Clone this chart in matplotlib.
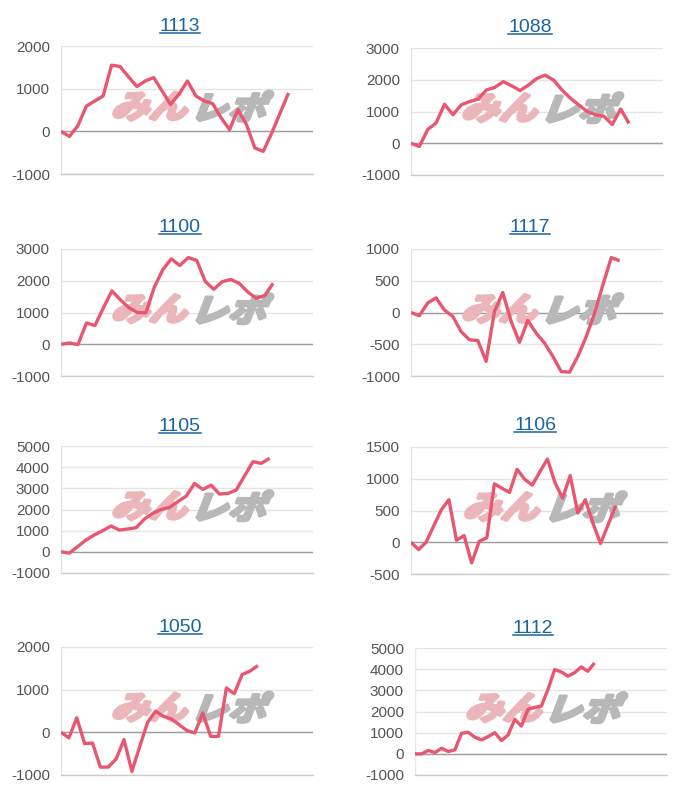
import matplotlib
matplotlib.use("Agg")
import matplotlib.pyplot as plt
from matplotlib.lines import Line2D
from matplotlib.textpath import TextPath
from matplotlib.patches import PathPatch
from matplotlib.font_manager import FontProperties
from matplotlib.transforms import Affine2D

plt.rcParams["font.family"] = ["Liberation Sans", "DejaVu Sans"]
plt.rcParams["axes.unicode_minus"] = False

# chart titles (machine numbers)
titles = ["1113", "1088", "1100", "1117", "1105", "1106", "1050", "1112"]

# cumulative difference per day
v1113 = [0, -120, 130, 590, 710, 830, 1550, 1520, 1280, 1050, 1180, 1260, 945, 630,
         870, 1180, 830, 710, 650, 315, 40, 510, 160, -390, -470, -40, 430, 900]
v1088 = [0, -100, 435, 640, 1230, 900, 1210, 1315, 1390, 1680, 1760, 1940, 1810, 1660,
         1830, 2040, 2145, 1990, 1680, 1420, 1210, 1005, 900, 850, 590, 1080, 620]
v1100 = [0, 40, -10, 670, 590, 1150, 1680, 1400, 1150, 1000, 990, 1800, 2350, 2690,
         2480, 2730, 2640, 1980, 1730, 1970, 2040, 1920, 1650, 1450, 1530, 1920]
v1117 = [0, -50, 150, 230, 40, -60, -300, -430, -440, -770, 15, 315, -140, -470,
         -125, -325, -480, -690, -930, -940, -690, -380, -10, 435, 865, 815]
v1105 = [0, -60, 250, 560, 800, 1000, 1220, 1030, 1080, 1140, 1550, 1820, 2000, 2100,
         2370, 2630, 3230, 2950, 3150, 2730, 2760, 2920, 3590, 4260, 4180, 4420]
v1106 = [0, -115, 0, 260, 510, 670, 30, 105, -325, 15, 70, 920, 850, 785,
         1150, 990, 900, 1110, 1310, 935, 695, 1050, 460, 670, 300, -20, 275, 575]
v1050 = [0, -130, 340, -265, -250, -815, -815, -625, -170, -915, -330, 235, 495, 375,
         315, 180, 40, -15, 455, -95, -95, 1040, 905, 1355, 1435, 1565]
v1112 = [0, 0, 155, 60, 265, 110, 190, 970, 1020, 785, 660, 815, 1000, 625,
         890, 1630, 1315, 2100, 2195, 2255, 3040, 3980, 3870, 3670, 3830, 4105, 3900, 4295]
series = [v1113, v1088, v1100, v1117, v1105, v1106, v1050, v1112]

y_ticks = [
    [-1000, 0, 1000, 2000],
    [-1000, 0, 1000, 2000, 3000],
    [-1000, 0, 1000, 2000, 3000],
    [-1000, -500, 0, 500, 1000],
    [-1000, 0, 1000, 2000, 3000, 4000, 5000],
    [-500, 0, 500, 1000, 1500],
    [-1000, 0, 1000, 2000],
    [-1000, 0, 1000, 2000, 3000, 4000, 5000],
]

# layout, in pixels of the 700x800 picture
W, H = 700, 800
rects = [(61, 46, 313, 174), (411, 48, 663, 175),
         (61, 249, 313, 376), (411, 249, 663, 376),
         (61, 446, 313, 573), (411, 447, 668, 574),
         (61, 647, 313, 775), (415, 648, 667, 775)]
title_pos = [(180, 31), (530, 32), (180, 232), (530, 232),
             (180, 431), (535, 430), (180, 632), (533, 633)]
x_max = [29.9, 30.05, 29.7, 30.2, 30.2, 33.9, 32.0, 37.9]

line_color = "#e8566f"
title_color = "#1a64a0"
wm_prop = FontProperties(family="Noto Sans CJK JP", weight="bold")


def watermark(ax, text, fx, fy, color):
    # slanted logo text drawn as a path, sized in pixels
    tp = TextPath((0, 0), text, size=1, prop=wm_prop)
    ext = tp.get_extents()
    cx, cy = (ext.x0 + ext.x1) / 2, (ext.y0 + ext.y1) / 2
    dx, dy = ax.transAxes.transform((fx, fy))
    tr = Affine2D().translate(-cx, -cy).skew_deg(18, 0).scale(38, 32).translate(dx, dy)
    ax.add_patch(PathPatch(tp, transform=tr, facecolor=color, edgecolor=color,
                           lw=2.6, joinstyle="round", zorder=2, clip_on=False))


fig = plt.figure(figsize=(7, 8), dpi=100)
title_texts = []

for i, vals in enumerate(series):
    x0, yt, x1, yb = rects[i]
    ax = fig.add_axes([x0 / W, 1 - yb / H, (x1 - x0) / W, (yb - yt) / H])
    ticks = y_ticks[i]
    ax.set_xlim(0, x_max[i])
    ax.set_ylim(ticks[0], ticks[-1])
    ax.set_yticks(ticks)
    ax.set_xticks([])
    for s in ax.spines.values():
        s.set_visible(False)
    ax.grid(axis="y", color="#e4e4e4", lw=1)
    ax.set_axisbelow(True)
    ax.axhline(0, color="#9e9e9e", lw=1, zorder=1)
    ax.axhline(ticks[0], color="#cccccc", lw=1, clip_on=False, zorder=1)
    ax.axvline(0, color="#e4e4e4", lw=1, zorder=1)
    ax.tick_params(axis="y", length=0, pad=8, labelsize=11, labelcolor="#555555")

    watermark(ax, "みん", 0.365, 0.53, "#ebb6ba")
    watermark(ax, "レポ", 0.69, 0.53, "#b8b8b8")

    ax.plot(range(len(vals)), vals, color=line_color, lw=2.4, zorder=3,
            solid_joinstyle="round", solid_capstyle="butt")

    tx, ty = title_pos[i]
    t = fig.text(tx / W, 1 - ty / H, titles[i], ha="center", va="baseline",
                 fontsize=14, color=title_color)
    title_texts.append((t, ty))

# underline the titles (they are links in the original)
fig.canvas.draw()
r = fig.canvas.get_renderer()
for t, ty in title_texts:
    bb = t.get_window_extent(r)
    y = 1 - (ty + 2) / H
    fig.add_artist(Line2D([bb.x0 / W, bb.x1 / W], [y, y], transform=fig.transFigure,
                          color=title_color, lw=1.1))

fig.savefig("out.png", dpi=100)
plt.close(fig)
